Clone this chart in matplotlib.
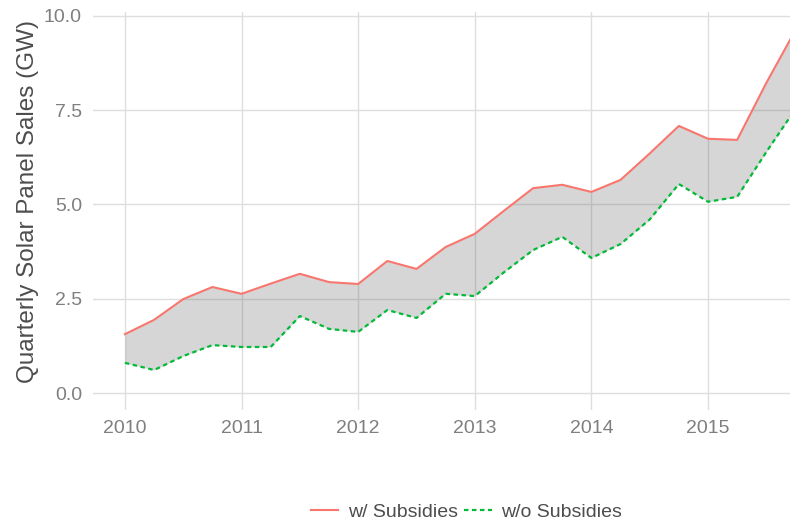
import matplotlib.pyplot as plt
import numpy as np

plt.rcParams['font.family'] = ['Liberation Sans', 'DejaVu Sans']

# quarterly data, 2010 Q1 .. 2015 Q4
quarters = np.arange(2010, 2016, 0.25)
with_subsidies = [1.56, 1.94, 2.49, 2.81, 2.63, 2.90, 3.16, 2.94,
                  2.89, 3.50, 3.29, 3.87, 4.22, 4.83, 5.43, 5.52,
                  5.33, 5.65, 6.35, 7.08, 6.74, 6.71, 8.22, 9.62]
without_subsidies = [0.80, 0.61, 0.98, 1.27, 1.22, 1.22, 2.04, 1.70,
                     1.62, 2.20, 1.99, 2.63, 2.57, 3.20, 3.79, 4.14,
                     3.58, 3.95, 4.60, 5.54, 5.07, 5.20, 6.39, 7.53]
series_labels = ['w/ Subsidies', 'w/o Subsidies']
y_ticks = [0.0, 2.5, 5.0, 7.5, 10.0]
x_ticks = [2010, 2011, 2012, 2013, 2014, 2015]

red = '#F8766D'
green = '#00BA38'
tick_grey = '#7F7F7F'
text_grey = '#4D4D4D'

fig = plt.figure(figsize=(7.9, 5.22), dpi=100)
# panel spans pixels x 93..790, y 12..410
ax = fig.add_axes([93 / 790, 1 - 410 / 522, (790 - 93) / 790, (410 - 12) / 522])

ax.fill_between(quarters, without_subsidies, with_subsidies,
                color='#545454', alpha=0.24, linewidth=0, zorder=2)
ax.plot(quarters, with_subsidies, color=red, lw=1.5, label=series_labels[0], zorder=3)
ax.plot(quarters, without_subsidies, color=green, lw=1.6,
        linestyle=(0, (2, 1.6)), label=series_labels[1], zorder=3)

ax.set_xlim(2009.726, 2015.703)
ax.set_ylim(-0.45, 10.1)
ax.set_xticks(x_ticks)
ax.set_xticklabels([str(x) for x in x_ticks])
ax.set_yticks(y_ticks)
ax.set_yticklabels([f'{v:.1f}' for v in y_ticks])

ax.grid(True, color='#DEDEDE', linewidth=1.0, zorder=0)
ax.set_axisbelow(True)
for s in ax.spines.values():
    s.set_visible(False)
ax.tick_params(length=0, labelsize=14, labelcolor=tick_grey, pad=8)
ax.tick_params(axis='x', pad=7)
ax.set_ylabel('Quarterly Solar Panel Sales (GW)', fontsize=17.5, color=text_grey)
ax.yaxis.set_label_coords((39 - 93) / 697, 0.525)

fig.legend(loc='lower center', bbox_to_anchor=(0.5905, -0.032), ncol=2, frameon=False,
           fontsize=14, handlelength=1.4, columnspacing=0.35, handletextpad=0.5,
           labelcolor=text_grey)

fig.savefig('out.png', dpi=100)
